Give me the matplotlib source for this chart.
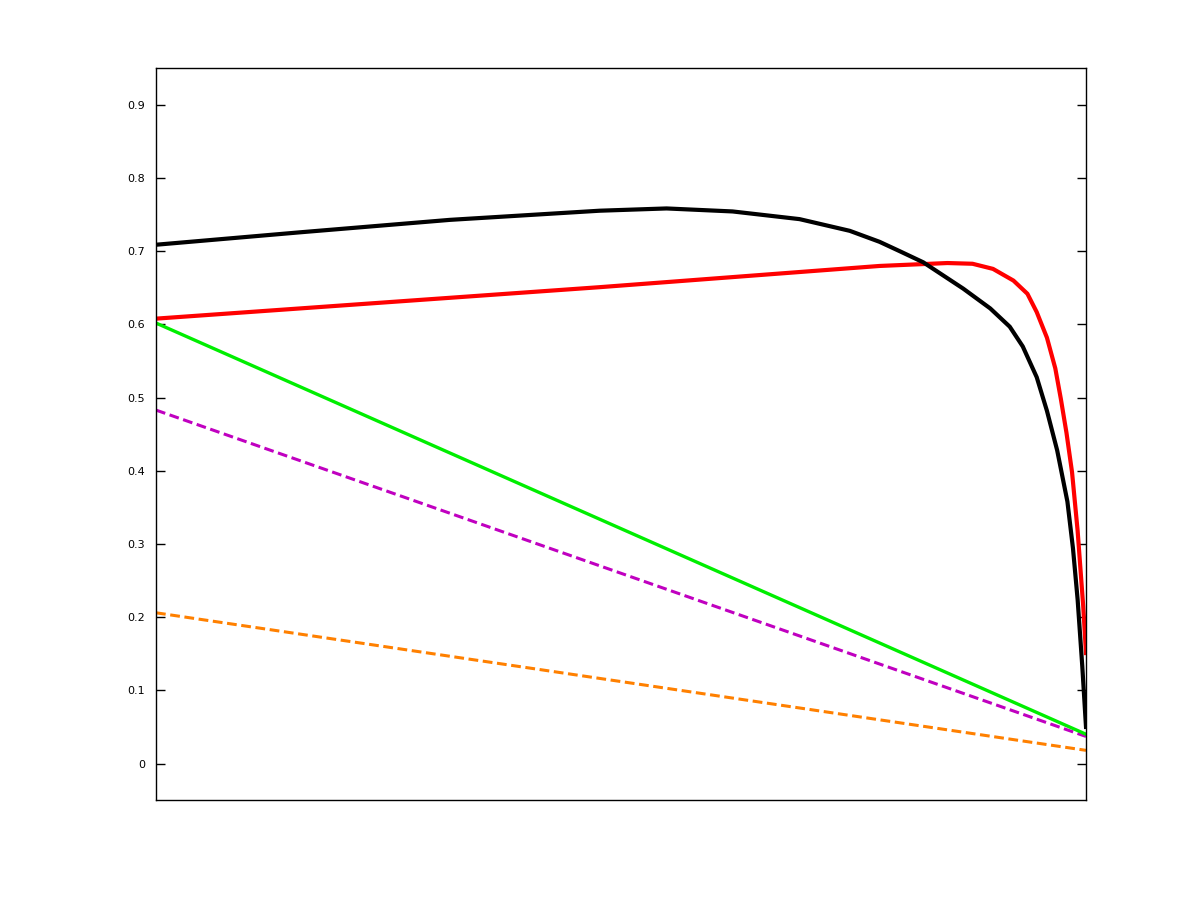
import matplotlib
matplotlib.use("Agg")
import matplotlib.pyplot as plt

# values (x runs 0..1, no x ticks shown)
black_x = [0.0, 0.155, 0.316, 0.477, 0.549, 0.620, 0.692, 0.746, 0.778, 0.800,
           0.825, 0.868, 0.897, 0.918, 0.932, 0.947, 0.958, 0.969, 0.980, 0.986,
           0.991, 0.996, 1.0]
black_y = [0.709, 0.726, 0.743, 0.7555, 0.7586, 0.7545, 0.744, 0.728, 0.713, 0.700,
           0.685, 0.649, 0.622, 0.597, 0.570, 0.528, 0.482, 0.428, 0.358, 0.294,
           0.224, 0.133, 0.050]

red_x = [0.0, 0.477, 0.778, 0.851, 0.878, 0.900, 0.922, 0.937, 0.947, 0.958,
         0.967, 0.973, 0.979, 0.985, 0.991, 0.997, 1.0]
red_y = [0.608, 0.651, 0.680, 0.684, 0.683, 0.676, 0.660, 0.642, 0.617, 0.582,
         0.540, 0.498, 0.452, 0.398, 0.318, 0.215, 0.151]

green_x = [0.0, 1.0]
green_y = [0.602, 0.040]

magenta_x = [0.0, 1.0]
magenta_y = [0.483, 0.037]

orange_x = [0.0, 1.0]
orange_y = [0.206, 0.018]

yticks = [0, 0.1, 0.2, 0.3, 0.4, 0.5, 0.6, 0.7, 0.8, 0.9]

fig = plt.figure(figsize=(12, 9), dpi=100)
ax = fig.add_axes([0.13, 0.111, 0.775, 0.813])

ax.plot(orange_x, orange_y, color="#ff8000", lw=2.2, dashes=(3.2, 1.5))
ax.plot(magenta_x, magenta_y, color="#c000c0", lw=2.2, dashes=(3.2, 1.5))
ax.plot(green_x, green_y, color="#00ee00", lw=2.4)
ax.plot(red_x, red_y, color="red", lw=3.0)
ax.plot(black_x, black_y, color="black", lw=3.0)

ax.set_xlim(0, 1)
ax.set_ylim(-0.05, 0.95)
ax.set_xticks([])
ax.set_yticks(yticks)
ax.set_yticklabels([f"{v:g}" for v in yticks])
ax.tick_params(axis="y", direction="in", length=6.5, width=1, right=True,
               labelsize=8, pad=8)
for s in ax.spines.values():
    s.set_linewidth(1)

fig.savefig("out.png", dpi=100)
